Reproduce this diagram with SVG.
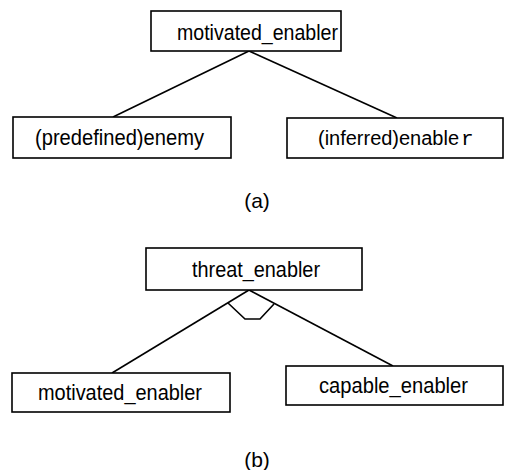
<svg xmlns="http://www.w3.org/2000/svg" width="505" height="470" viewBox="0 0 505 470">
<style>
.box{fill:#fff;stroke:#000;stroke-width:1.6}
.lbl{font-family:"Liberation Sans",Arial,sans-serif;font-size:22px;fill:#000}
.mono{font-family:"Liberation Mono","Courier New",monospace;font-size:21px;fill:#000}
.cap{font-family:"Liberation Sans",Arial,sans-serif;font-size:21px;fill:#000;text-anchor:middle}
.edge{fill:none;stroke:#000;stroke-width:1.6}
</style>
<rect width="505" height="470" fill="#fff"/>
<g id="connectors">
<line class="edge" x1="249" y1="51" x2="113" y2="117"/>
<line class="edge" x1="249" y1="51" x2="397" y2="118"/>
<line class="edge" x1="249" y1="290" x2="112" y2="373"/>
<line class="edge" x1="249" y1="290" x2="393" y2="366"/>
<polyline class="edge" points="228,303 245,319 260,319 274,304"/>
</g>
<g id="a_motivated_enabler">
<rect class="box" x="151" y="11" width="190" height="40"/>
<text class="lbl" x="177" y="40" textLength="161" lengthAdjust="spacingAndGlyphs">motivated_enabler</text>
</g>
<g id="a_predefined_enemy">
<rect class="box" x="13" y="117" width="218" height="41"/>
<text class="lbl" x="35" y="145" textLength="169" lengthAdjust="spacingAndGlyphs">(predefined)enemy</text>
</g>
<g id="a_inferred_enabler">
<rect class="box" x="287" y="118" width="216" height="40"/>
<text class="lbl" x="318" y="145" style="font-size:20px" textLength="141" lengthAdjust="spacingAndGlyphs">(inferred)enable</text>
<text class="mono" x="461" y="145">r</text>
</g>
<text class="cap" x="257" y="208">(a)</text>
<g id="b_threat_enabler">
<rect class="box" x="146" y="248" width="216" height="42"/>
<text class="lbl" x="192" y="277" textLength="128" lengthAdjust="spacingAndGlyphs">threat_enabler</text>
</g>
<g id="b_motivated_enabler">
<rect class="box" x="12" y="373" width="218" height="39"/>
<text class="lbl" x="38" y="400" textLength="164" lengthAdjust="spacingAndGlyphs">motivated_enabler</text>
</g>
<g id="b_capable_enabler">
<rect class="box" x="286" y="366" width="217" height="39"/>
<text class="lbl" x="319" y="393" textLength="149" lengthAdjust="spacingAndGlyphs">capable_enabler</text>
</g>
<text class="cap" x="257" y="467">(b)</text>
</svg>
